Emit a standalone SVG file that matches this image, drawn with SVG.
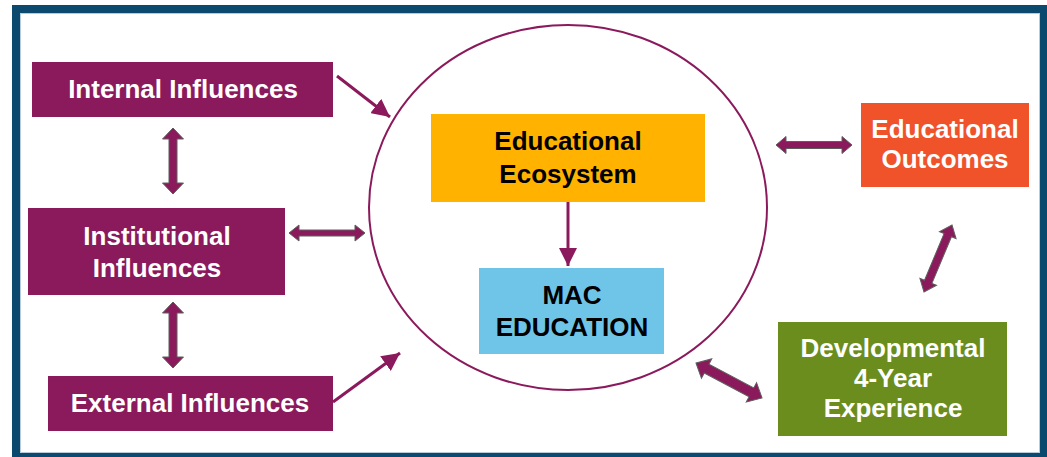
<svg xmlns="http://www.w3.org/2000/svg" width="1047" height="457" viewBox="0 0 1047 457">
  <style>
    .lbl { font-family: "Liberation Sans", Arial, sans-serif; font-weight: bold; font-size: 26px; text-anchor: middle; }
    .w { fill: #ffffff; }
    .k { fill: #000000; }
    .purple { fill: #8B1A5C; }
    .dbl { fill: #8B1A5C; stroke: #5e5e5e; stroke-width: 1; stroke-linejoin: miter; }
    .ln { stroke: #8B1A5C; stroke-width: 3; fill: none; }
  </style>
  <defs>
    <marker id="head" viewBox="0 0 10 10" refX="10" refY="5" markerWidth="6" markerHeight="6" markerUnits="strokeWidth" orient="auto">
      <path d="M0,0 L10,5 L0,10 Z" fill="#8B1A5C"/>
    </marker>
  </defs>

  <!-- outer frame -->
  <rect x="0" y="0" width="1047" height="457" fill="#ffffff"/>
  <rect x="16" y="9" width="1028" height="448" fill="none" stroke="#0B4A6E" stroke-width="8"/>
  <rect x="20.5" y="13.5" width="1019" height="439" fill="none" stroke="#b7cbdb" stroke-width="1"/>

  <!-- ecosystem boundary -->
  <ellipse cx="568" cy="207.5" rx="199" ry="182.5" fill="none" stroke="#8B1A5C" stroke-width="2"/>

  <g id="internal-influences">
    <rect x="32" y="62" width="301" height="55" class="purple"/>
    <text x="183" y="98" class="lbl w">Internal Influences</text>
  </g>

  <g id="institutional-influences">
    <rect x="28" y="208" width="257" height="87" class="purple"/>
    <text x="157" y="245" class="lbl w">Institutional</text>
    <text x="157" y="277" class="lbl w">Influences</text>
  </g>

  <g id="external-influences">
    <rect x="48" y="376" width="285" height="55" class="purple"/>
    <text x="190" y="412" class="lbl w">External Influences</text>
  </g>

  <g id="educational-ecosystem">
    <rect x="431" y="114" width="274" height="88" fill="#FFB300"/>
    <text x="568" y="150" class="lbl k">Educational</text>
    <text x="568" y="183" class="lbl k">Ecosystem</text>
  </g>

  <g id="mac-education">
    <rect x="479" y="268" width="185" height="86" fill="#6FC5E8"/>
    <text x="572" y="304" class="lbl k">MAC</text>
    <text x="572" y="336" class="lbl k">EDUCATION</text>
  </g>

  <g id="educational-outcomes">
    <rect x="861" y="103" width="168" height="84" fill="#F0522A"/>
    <text x="945" y="138" class="lbl w">Educational</text>
    <text x="945" y="168" class="lbl w">Outcomes</text>
  </g>

  <g id="developmental-experience">
    <rect x="778" y="322" width="229" height="114" fill="#6A8D1E"/>
    <text x="893" y="357" class="lbl w">Developmental</text>
    <text x="893" y="387" class="lbl w">4-Year</text>
    <text x="893" y="417" class="lbl w">Experience</text>
  </g>

  <g id="connectors">
    <!-- one-way influences -->
    <line x1="337" y1="76" x2="390" y2="117" class="ln" marker-end="url(#head)"/>
    <line x1="333" y1="402" x2="400" y2="353" class="ln" marker-end="url(#head)"/>
    <line x1="568" y1="202" x2="568" y2="266" class="ln" marker-end="url(#head)"/>

    <!-- two-way block arrows -->
    <path class="dbl" transform="translate(173,128) rotate(90)"
          d="M0,0 L11,-10.5 L11,-4 L55,-4 L55,-10.5 L66,0 L55,10.5 L55,4 L11,4 L11,10.5 Z"/>
    <path class="dbl" transform="translate(173,302) rotate(90)"
          d="M0,0 L11,-10.5 L11,-4 L55,-4 L55,-10.5 L66,0 L55,10.5 L55,4 L11,4 L11,10.5 Z"/>
    <path class="dbl" transform="translate(289,233)"
          d="M0,0 L10,-8 L10,-3 L66,-3 L66,-8 L76,0 L66,8 L66,3 L10,3 L10,8 Z"/>
    <path class="dbl" transform="translate(776,145)"
          d="M0,0 L10,-8.5 L10,-3.5 L66,-3.5 L66,-8.5 L76,0 L66,8.5 L66,3.5 L10,3.5 L10,8.5 Z"/>
    <path class="dbl" transform="translate(952,225) rotate(112.7)"
          d="M0,0 L11,-9 L11,-4 L61.6,-4 L61.6,-9 L72.6,0 L61.6,9 L61.6,4 L11,4 L11,9 Z"/>
    <path class="dbl" transform="translate(696,363) rotate(27.9)"
          d="M0,0 L12,-11 L12,-5 L62.7,-5 L62.7,-11 L74.7,0 L62.7,11 L62.7,5 L12,5 L12,11 Z"/>
  </g>
</svg>
